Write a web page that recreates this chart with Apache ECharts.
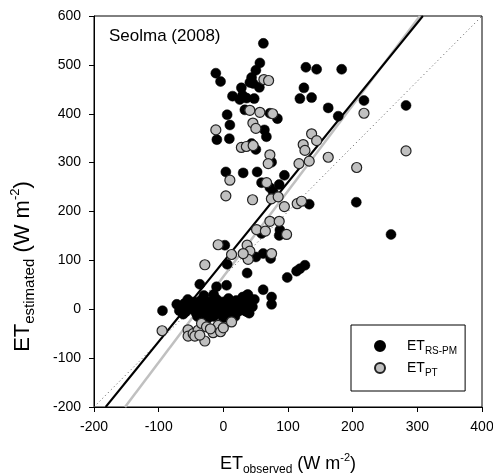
<!DOCTYPE html>
<html>
<head>
<meta charset="utf-8">
<script src="https://cdn.jsdelivr.net/npm/echarts@6/dist/echarts.min.js"></script>
<style>
html,body{margin:0;padding:0;background:#fff;}
#chart{width:493px;height:476px;}
</style>
</head>
<body>
<div id="chart"></div>
<script>
// ---- data ----
const chartTitle = 'Seolma (2008)';
const legendLabels = ['RS-PM', 'PT'];
const xTicks = [-200, -100, 0, 100, 200, 300, 400];
const yTicks = [-200, -100, 0, 100, 200, 300, 400, 500, 600];

// ET_RS-PM: [observed, estimated]
const rsPmPoints = [
  [61.9,544],[56.5,504],[50.3,489],[-11.6,483],[-4.3,466],[43.7,474],[41,464],[46.1,462],
  [55.7,454],[27.9,453],[14.2,436],[29.7,438],[35.9,432],[47.7,431],[25.5,429],[33.3,408],
  [5.9,398],[10.1,377],[72,401],[83.6,390],[63.5,367],[66.6,353],[-10,347],[9.3,349],
  [127.7,495],[144.3,491],[183,491],[124.6,453],[118.4,431],[136.5,433],[162.2,412],
  [177.7,395],[217.5,427],[282.5,417],[43.7,339],[50.3,327],[3.9,281],[30.7,279],[52.3,281],
  [94.4,274],[59.1,259],[72,249],[86.4,255],[77.1,240],[74.6,301],[205.6,219],[132.8,215],
  [259.3,153],[87.5,162],[59.1,155],[126.2,90],[118.4,83],[113.3,78],[98.8,65],[36.8,74],
  [61.6,40],[74.6,25],[74.6,10],[36.8,29],[33.3,-2],[50.3,107],[61.6,114],[73.1,104],
  [86.4,151],[2.3,131],[5.9,92],[-36.4,51],[-10.5,46],[5,49],[-94.1,-3],
  [-72,10],[-65,5],[-60,12],[-58,-5],[-52,8],[-48,0],[-45,15],[-42,-8],[-38,5],[-35,18],
  [-32,-3],[-30,10],[-28,-12],[-25,2],[-22,15],[-20,-5],[-18,8],[-15,-15],[-12,3],[-10,20],
  [-8,-8],[-5,10],[-3,-2],[0,15],[2,-10],[5,5],[8,22],[10,-5],[12,10],[15,-12],[18,3],
  [20,18],[22,-5],[25,8],[28,-2],[30,25],[32,12],[35,0],[38,30],[40,-8],[42,15],[45,5],
  [-62,-10],[-40,-15],[-25,-20],[-55,20],[-68,-3],[48,20],[-30,28],[-15,30],[0,-18],[18,-15],[36,-5]
];

// ET_PT: [observed, estimated]
const ptPoints = [
  [62.7,470],[70,468],[41,407],[56.5,403],[76.2,400],[45.7,381],[50.3,370],[-11.6,367],
  [27.9,331],[35.6,333],[46.1,335],[72,316],[69.4,298],[10.1,264],[66.9,259],[3.9,232],
  [45.2,224],[74.3,226],[84.8,230],[94.4,210],[117,298],[114.2,216],[121,221],[72,180],
  [86.4,180],[51.4,163],[65,160],[97.8,153],[136.5,359],[144.3,345],[123.5,337],[126.2,325],
  [162.2,311],[206.2,290],[132.8,303],[217.5,401],[282.5,324],[-8,132],[36.8,131],[12.7,112],
  [33.3,112],[41,119],[74.6,114],[38.4,102],[-28.6,91],[30.7,114],
  [-94.7,-44],[-54.5,-42],[-54.5,-55],[-46.7,-50],[-39,-43],[-33.7,-29],[-26,-36],[-28.6,-65],
  [-15.8,-48],[-8,-33],[-4.3,-46],[12.7,-26],[-44,-55],[-36.4,-53],[-20,-40],[0,-38]
];

// regression lines and reference line (end points)
const fitRsPm = [[-182,-200],[308.6,600]];
const fitPt = [[-152,-200],[304,600]];
const refLine = [[-200,-200],[400,600]];

// ---- chart ----
const FONT = '"Liberation Sans", Arial, sans-serif';
const chart = echarts.init(document.getElementById('chart'));

const xNameRich = {
  m: {fontSize: 18, fontFamily: FONT, color: '#000', lineHeight: 24},
  s: {fontSize: 12, fontFamily: FONT, color: '#000', lineHeight: 10, verticalAlign: 'bottom'},
  p: {fontSize: 11, fontFamily: FONT, color: '#000', lineHeight: 10, verticalAlign: 'top'}
};
const yNameRich = {
  m: {fontSize: 22, fontFamily: FONT, color: '#000', lineHeight: 28},
  s: {fontSize: 15, fontFamily: FONT, color: '#000', lineHeight: 12, verticalAlign: 'bottom'},
  p: {fontSize: 13, fontFamily: FONT, color: '#000', lineHeight: 12, verticalAlign: 'top'}
};

chart.setOption({
  animation: false,
  backgroundColor: '#fff',
  grid: {
    left: 94, right: 11, top: 16, bottom: 69, containLabel: false, outerBoundsMode: 'none',
    show: true, borderColor: '#000', borderWidth: 1, backgroundColor: 'transparent'
  },
  title: {
    text: chartTitle, left: 104, top: 23,
    textStyle: {fontFamily: FONT, fontSize: 17, fontWeight: 'normal', color: '#000'}
  },
  legend: {
    orient: 'vertical', left: 351, top: 325,
    data: legendLabels,
    itemWidth: 10, itemHeight: 10, itemGap: 5,
    padding: [14, 8, 13, 23],
    borderColor: '#000', borderWidth: 1,
    formatter: function (n) { return '{g|}{m|ET}{s|' + n + '}'; },
    textStyle: {
      rich: {
        g: {width: 17, lineHeight: 20},
        m: {fontSize: 14, fontFamily: FONT, color: '#000', lineHeight: 20},
        s: {fontSize: 10, fontFamily: FONT, color: '#000', lineHeight: 8, verticalAlign: 'bottom'}
      }
    }
  },
  xAxis: {
    type: 'value', min: xTicks[0], max: xTicks[xTicks.length - 1], interval: 100,
    splitLine: {show: false},
    axisLine: {show: true, onZero: false, lineStyle: {color: '#000', width: 1}},
    axisTick: {show: true, inside: false, length: 5, lineStyle: {color: '#000'}},
    axisLabel: {fontFamily: FONT, fontSize: 14, color: '#000', margin: 13},
    name: '{m|ET}{s|observed}{m| (W m}{p|-2}{m|)}',
    nameLocation: 'middle', nameGap: 45,
    nameTextStyle: {rich: xNameRich}
  },
  yAxis: {
    type: 'value', min: yTicks[0], max: yTicks[yTicks.length - 1], interval: 100,
    splitLine: {show: false},
    axisLine: {show: true, onZero: false, lineStyle: {color: '#000', width: 1}},
    axisTick: {show: true, inside: false, length: 5, lineStyle: {color: '#000'}},
    axisLabel: {fontFamily: FONT, fontSize: 14, color: '#000', margin: 13},
    name: '{m|ET}{s|estimated}{m| (W m}{p|-2}{m|)}',
    nameLocation: 'middle', nameGap: 57,
    nameTextStyle: {rich: yNameRich, padding: [0, 110, 0, 0]}
  },
  series: [
    {
      name: 'ref', type: 'line', data: refLine, showSymbol: false, symbol: 'none',
      lineStyle: {color: '#555', width: 1, type: [1, 3]}, z: 1, silent: true
    },
    {
      name: 'fitRsPm', type: 'line', data: fitRsPm, symbol: 'none',
      lineStyle: {color: '#000', width: 2}, z: 4, silent: true
    },
    {
      name: 'fitPt', type: 'line', data: fitPt, symbol: 'none',
      lineStyle: {color: '#c0c0c0', width: 2.5}, z: 3, silent: true
    },
    {
      name: legendLabels[0], type: 'scatter', data: rsPmPoints, symbol: 'circle', symbolSize: 10,
      itemStyle: {color: '#000', borderColor: '#000', borderWidth: 0.5, opacity: 1}, z: 5
    },
    {
      name: legendLabels[1], type: 'scatter', data: ptPoints, symbol: 'circle', symbolSize: 10,
      itemStyle: {color: '#c0c0c0', borderColor: '#222', borderWidth: 1.2, opacity: 1}, z: 6
    }
  ]
});
</script>
</body>
</html>
